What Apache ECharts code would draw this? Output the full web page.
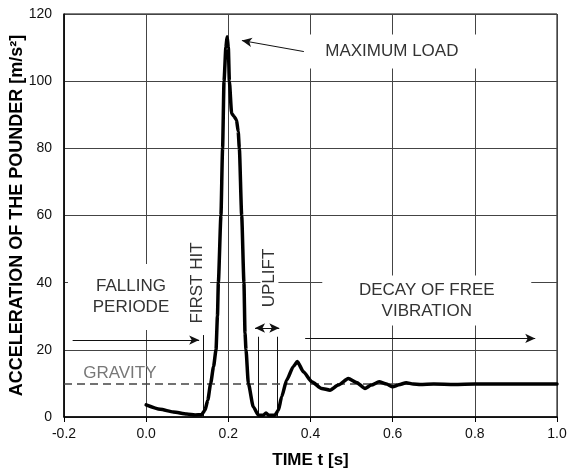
<!DOCTYPE html>
<html>
<head>
<meta charset="utf-8">
<script src="https://cdn.jsdelivr.net/npm/echarts@6/dist/echarts.min.js"></script>
<style>
  html, body { margin: 0; padding: 0; background: #fff; }
  #chart { width: 567px; height: 471px; }
</style>
</head>
<body>
<div id="chart"></div>
<script>
// measured pounder acceleration
var timeS = [0.000, 0.034, 0.066, 0.099, 0.119, 0.135, 0.143, 0.150, 0.157, 0.164, 0.170, 0.1735, 0.1757,
    0.182, 0.186, 0.1895, 0.194, 0.197, 0.200, 0.2025, 0.208, 0.214, 0.220, 0.224, 0.2268, 0.2325,
    0.238, 0.2406, 0.243, 0.2487, 0.2608, 0.273, 0.285, 0.2917, 0.298, 0.313, 0.3217, 0.3298, 0.342,
    0.358, 0.368, 0.3826, 0.403, 0.427, 0.4475, 0.4677, 0.492, 0.512, 0.5327, 0.548, 0.567, 0.585,
    0.600, 0.615, 0.633, 0.650, 0.667, 0.70, 0.75, 0.80, 0.90, 1.00];
var accel = [3.6, 2.3, 1.5, 0.9, 0.6, 0.7, 2.0, 5.0, 10, 15, 20, 30, 40,
    60, 80, 100, 110, 113.2, 110, 100, 90.4, 89.5, 88.4, 85, 80, 60,
    40, 25, 20, 10, 3, 0.6, 0.5, 1.2, 0.5, 0.5, 2, 6, 11,
    15, 16.5, 13.5, 10.5, 8.5, 8.0, 9.5, 11.5, 10.3, 8.5, 9.5, 10.5, 9.8,
    9.0, 9.6, 10.2, 9.8, 9.7, 9.8, 9.7, 9.8, 9.8, 9.8];

var xTicks = [-0.2, 0.0, 0.2, 0.4, 0.6, 0.8, 1.0];
var yTicks = [0, 20, 40, 60, 80, 100, 120];
var gravity = 10;

// annotation lines (t, a)
var maxLoadArrow = [[0.389, 108.7], [0.233, 112.1]];
var fallingArrow = [[-0.179, 22.9], [0.129, 22.9]];
var upliftArrow = [[0.265, 26.5], [0.324, 26.5]];
var decayArrow = [[0.387, 23.4], [0.947, 23.4]];
var markerTimes = [0.14, 0.273, 0.318];
var markerTops = [24.4, 23.9, 23.9];

var labels = ['MAXIMUM LOAD', 'FALLING\nPERIODE', 'FIRST HIT', 'UPLIFT', 'DECAY OF FREE\nVIBRATION', 'GRAVITY'];
var labelPos = [[0.598, 108.8], [-0.037, 35.7], [0.124, 39.9], [0.300, 41.4], [0.683, 34.7], [-0.064, 13.0]];

var FONT = '"Liberation Sans", Arial, Helvetica, sans-serif';

var chart = echarts.init(document.getElementById('chart'));

var curve = timeS.map(function (t, i) { return [t, accel[i]]; });

function arrowLine(p, startSym, endSym) {
    return [
        { coord: p[0], symbol: startSym },
        { coord: p[1], symbol: endSym }
    ];
}

var marks = [
    arrowLine(maxLoadArrow, 'none', 'arrow'),
    arrowLine(fallingArrow, 'none', 'arrow'),
    arrowLine(upliftArrow, 'arrow', 'arrow'),
    arrowLine(decayArrow, 'none', 'arrow')
];
markerTimes.forEach(function (t, i) {
    marks.push(arrowLine([[t, 0], [t, markerTops[i]]], 'none', 'none'));
});

var option = {
    animation: false,
    backgroundColor: '#fff',
    textStyle: { fontFamily: FONT },
    grid: {
        left: 64, right: 10, top: 14, bottom: 54,
        outerBoundsMode: 'none',
        containLabel: false,
        show: true, borderColor: '#000', borderWidth: 1
    },
    xAxis: {
        type: 'value',
        min: xTicks[0], max: xTicks[xTicks.length - 1], interval: 0.2,
        name: 'TIME t [s]',
        nameLocation: 'middle',
        nameGap: 35,
        nameTextStyle: { fontSize: 17, fontWeight: 'bold', color: '#000', fontFamily: FONT },
        axisLine: { onZero: false, lineStyle: { color: '#000', width: 1.5 } },
        axisTick: { show: true, length: 5, lineStyle: { color: '#000' } },
        axisLabel: {
            fontSize: 14, color: '#111', margin: 10, fontFamily: FONT,
            formatter: function (v) { return v.toFixed(1); }
        },
        splitLine: { show: true, lineStyle: { color: '#444', width: 1 } }
    },
    yAxis: {
        type: 'value',
        min: yTicks[0], max: yTicks[yTicks.length - 1], interval: 20,
        name: 'ACCELERATION OF THE POUNDER [m/s²]',
        nameLocation: 'middle',
        nameGap: 38,
        nameMoveOverlap: false,
        nameTextStyle: { fontSize: 18, fontWeight: 'bold', color: '#000', fontFamily: FONT },
        axisLine: { show: true, onZero: false, lineStyle: { color: '#000', width: 1.5 } },
        axisTick: { show: false },
        axisLabel: { fontSize: 14, color: '#111', margin: 12, fontFamily: FONT },
        splitLine: { show: true, lineStyle: { color: '#444', width: 1 } }
    },
    series: [
        {
            type: 'line',
            data: curve,
            z: 10,
            smooth: 0.2,
            smoothMonotone: 'x',
            showSymbol: false,
            lineStyle: { color: '#000', width: 3.5, join: 'round', cap: 'round' },
            silent: true,
            markLine: {
                silent: true,
                symbol: ['none', 'none'],
                symbolSize: [7, 10],
                label: { show: false },
                lineStyle: { color: '#111', width: 1, type: 'solid' },
                data: marks.concat([
                    {
                        yAxis: gravity,
                        lineStyle: { color: '#444', width: 1.6, type: [8, 5] }
                    }
                ])
            }
        }
    ]
};

chart.setOption(option);

// annotation texts and the white boxes behind them
function px(p) { return chart.convertToPixel({ xAxisIndex: 0, yAxisIndex: 0 }, p); }

var boxes = [[176, 34], [126, 66], [26, 90], [18, 68], [209, 50], null];
var rotated = [false, false, true, true, false, false];
var graphics = [];
labels.forEach(function (txt, i) {
    var c = px(labelPos[i]);
    if (boxes[i]) {
        var w = boxes[i][0];
        var h = boxes[i][1];
        graphics.push({
            type: 'rect', z: 5, silent: true,
            shape: { x: c[0] - w / 2, y: c[1] - h / 2, width: w, height: h },
            style: { fill: '#fff' }
        });
    }
    graphics.push({
        type: 'text', z: 6, silent: true,
        x: c[0], y: c[1],
        rotation: rotated[i] ? Math.PI / 2 : 0,
        style: {
            text: txt,
            font: '17px ' + FONT,
            fill: i === 5 ? '#777' : '#333',
            lineHeight: 21,
            align: 'center', verticalAlign: 'middle',
            textAlign: 'center', textVerticalAlign: 'middle'
        }
    });
});

chart.setOption({ graphic: graphics });
</script>
</body>
</html>
